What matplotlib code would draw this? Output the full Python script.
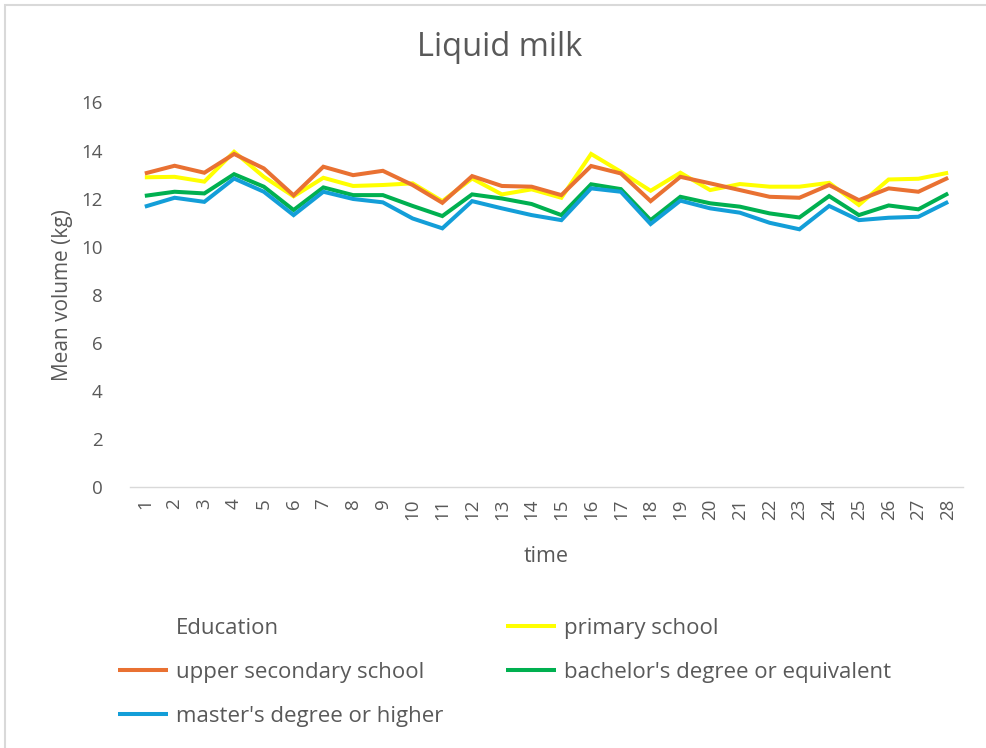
import matplotlib
matplotlib.use("Agg")
import matplotlib.pyplot as plt
from matplotlib.lines import Line2D
from matplotlib.patches import Rectangle

plt.rcParams['font.family'] = ['Open Sans', 'DejaVu Sans']

time = list(range(1, 29))

primary_school = [12.89, 12.91, 12.71, 13.95, 12.91, 12.10, 12.87, 12.53, 12.57, 12.64,
                  11.90, 12.84, 12.18, 12.39, 12.04, 13.86, 13.12, 12.33, 13.08, 12.36,
                  12.61, 12.50, 12.50, 12.66, 11.74, 12.80, 12.83, 13.08]
upper_secondary = [13.05, 13.37, 13.08, 13.86, 13.26, 12.14, 13.33, 12.98, 13.16, 12.57,
                   11.83, 12.94, 12.53, 12.50, 12.15, 13.36, 13.05, 11.90, 12.91, 12.64,
                   12.36, 12.08, 12.04, 12.57, 11.94, 12.43, 12.29, 12.87]
bachelor = [12.12, 12.29, 12.22, 13.02, 12.50, 11.53, 12.47, 12.15, 12.15, 11.70,
            11.28, 12.18, 12.01, 11.78, 11.32, 12.60, 12.40, 11.11, 12.08, 11.81,
            11.67, 11.39, 11.22, 12.11, 11.32, 11.72, 11.56, 12.22]
master = [11.67, 12.04, 11.87, 12.84, 12.29, 11.32, 12.29, 11.99, 11.85, 11.18,
          10.77, 11.90, 11.60, 11.32, 11.11, 12.43, 12.29, 10.95, 11.92, 11.60,
          11.42, 11.00, 10.73, 11.70, 11.11, 11.21, 11.25, 11.87]

series = [
    ("primary school", primary_school, "#FFFF00"),
    ("upper secondary school", upper_secondary, "#E97132"),
    ("bachelor's degree or equivalent", bachelor, "#00B050"),
    ("master's degree or higher", master, "#139ED8"),
]

text_color = "#595959"
lw = 2.9

fig = plt.figure(figsize=(9.86, 7.48), dpi=100)
ax = fig.add_axes([0.1318, 0.3483, 0.8449, 0.5147])

handles = {}
for name, vals, color in series:
    h, = ax.plot(time, vals, color=color, lw=lw, solid_joinstyle='miter',
                 solid_capstyle='butt', label=name)
    handles[name] = h

ax.set_xlim(0.5, 28.5)
ax.set_ylim(0, 16)
ax.set_yticks(range(0, 17, 2))
ax.set_xticks(time)
ax.set_xticklabels([str(t) for t in time], rotation=90)
for s in ["top", "right", "left"]:
    ax.spines[s].set_visible(False)
ax.spines["bottom"].set_color("#D9D9D9")
ax.spines["bottom"].set_linewidth(1.0)
ax.tick_params(axis='both', length=0, labelsize=13.5, colors=text_color)
ax.tick_params(axis='y', pad=19.5)
ax.tick_params(axis='x', pad=8)

fig.text(500 / 986, 1 - 47 / 748, "Liquid milk", fontsize=23.5, color=text_color,
         ha='center', va='center')
ax.set_xlabel("time", fontsize=15.5, color=text_color, labelpad=19)
ax.set_ylabel("Mean volume (kg)", fontsize=15, color=text_color, labelpad=6)

blank = Line2D([], [], color='none')
order = [blank, handles["upper secondary school"], handles["master's degree or higher"],
         handles["primary school"], handles["bachelor's degree or equivalent"]]
labels = ["Education", "upper secondary school", "master's degree or higher",
          "primary school", "bachelor's degree or equivalent"]
leg = fig.legend(order, labels, ncol=2, loc='upper left', bbox_to_anchor=(0.1106, 0.1858),
                 bbox_transform=fig.transFigure, frameon=False, fontsize=16,
                 handlelength=2.25, handletextpad=0.36, columnspacing=2.8,
                 labelspacing=1.04, borderaxespad=0)
for t in leg.get_texts():
    t.set_color(text_color)

# chart frame
fig.patches.append(Rectangle((5 / 986, -0.1), 1.2, 1.1 - 5 / 748,
                             transform=fig.transFigure, fill=False,
                             edgecolor="#D9D9D9", lw=1.5))

fig.savefig("out.png", dpi=100)
